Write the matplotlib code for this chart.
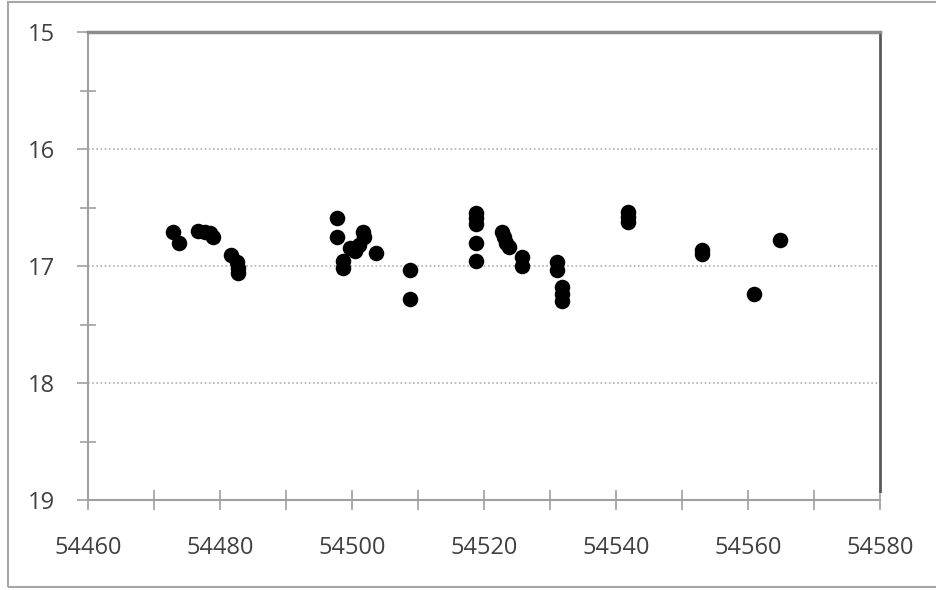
import matplotlib
matplotlib.use('Agg')
import matplotlib.pyplot as plt
from matplotlib.patches import Rectangle
from matplotlib.ticker import MultipleLocator, FuncFormatter

# 观测日期 (MJD) 和星等
mjd = [54472.9, 54473.8, 54476.7, 54477.7, 54478.5, 54479.0,
       54481.7, 54482.6, 54482.8, 54482.8,
       54497.7, 54497.7, 54498.6, 54498.7, 54499.7, 54500.5, 54501.0, 54501.7, 54501.8, 54503.6,
       54508.8, 54508.8,
       54518.8, 54518.8, 54518.8, 54518.8, 54518.8,
       54522.7, 54523.0, 54523.4, 54523.8,
       54525.8, 54525.8,
       54531.0, 54531.0, 54531.8, 54531.8, 54531.8,
       54541.8, 54541.8, 54541.8,
       54553.1, 54553.1, 54560.9, 54564.8]
mag = [16.71, 16.80, 16.70, 16.71, 16.72, 16.75,
       16.91, 16.97, 17.02, 17.06,
       16.59, 16.75, 16.96, 17.02, 16.85, 16.87, 16.82, 16.71, 16.75, 16.89,
       17.03, 17.28,
       16.55, 16.59, 16.64, 16.80, 16.96,
       16.71, 16.75, 16.80, 16.84,
       16.92, 17.00,
       16.97, 17.03, 17.18, 17.24, 17.30,
       16.54, 16.58, 16.62,
       16.86, 16.90, 17.24, 16.78]

x_range = (54460, 54580)
y_range = (19, 15)

plt.rcParams['font.family'] = ['Open Sans', 'DejaVu Sans']

fig = plt.figure(figsize=(9.36, 5.9), dpi=100)
ax = fig.add_axes([88 / 936, 1 - 500 / 590, 792 / 936, 468 / 590])

# 外边框
fig.patches.append(Rectangle((8 / 936, 3 / 590), 1.0, 585 / 590, transform=fig.transFigure,
                             fill=False, edgecolor='#a6a6a6', linewidth=1.5))

ax.scatter(mjd, mag, s=125, color='black', linewidths=0, zorder=3, clip_on=False)

ax.set_xlim(*x_range)
ax.set_ylim(*y_range)

ax.xaxis.set_major_locator(MultipleLocator(20))
ax.xaxis.set_minor_locator(MultipleLocator(10))
ax.yaxis.set_major_locator(MultipleLocator(1))
ax.yaxis.set_minor_locator(MultipleLocator(0.5))
ax.xaxis.set_major_formatter(FuncFormatter(lambda v, p: f'{int(v)}'))
ax.yaxis.set_major_formatter(FuncFormatter(lambda v, p: f'{int(v)}'))

ax.tick_params(axis='x', which='both', direction='inout', length=14, width=1.2,
               color='#a0a0a0', labelsize=17, labelcolor='#404040', pad=19)
ax.tick_params(axis='y', which='major', direction='out', length=8, width=1.2,
               color='#a0a0a0', labelsize=17, labelcolor='#404040', pad=16)
ax.tick_params(axis='y', which='minor', direction='inout', length=12, width=1.2,
               color='#a0a0a0')

ax.grid(axis='y', which='major', linestyle=(0, (1, 1.5)), color='#b0b0b0', linewidth=1.2, zorder=0)
ax.set_axisbelow(True)

for side in ['left', 'bottom']:
    ax.spines[side].set_color('#a0a0a0')
    ax.spines[side].set_linewidth(1.5)
ax.spines['top'].set_color('#8c8c8c')
ax.spines['top'].set_linewidth(2.5)
ax.spines['right'].set_color('#595959')
ax.spines['right'].set_linewidth(2)
ax.spines['right'].set_bounds(15, 18.92)

fig.savefig('out.png', dpi=100, facecolor='white')
